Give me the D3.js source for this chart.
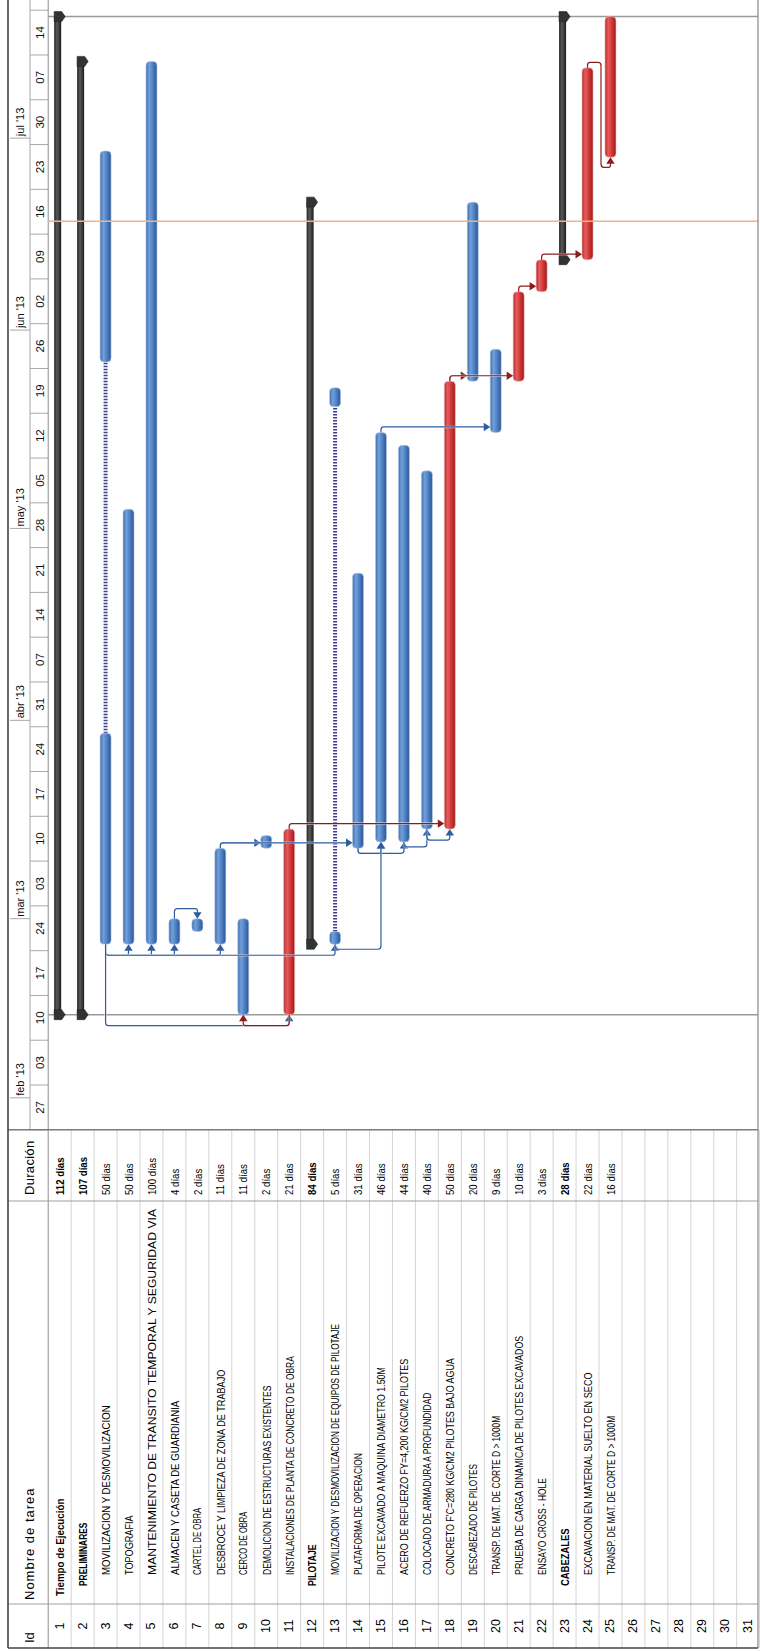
<!DOCTYPE html>
<html>
<head>
<meta charset="utf-8">
<script src="https://cdn.jsdelivr.net/npm/d3@7"></script>
<style>
  html, body { margin: 0; padding: 0; background: #fff; }
  svg { display: block; font-family: "Liberation Sans", Arial, sans-serif; }
</style>
</head>
<body>
<svg id="chart" width="760" height="1651"></svg>
<script>
// ---------- schedule data ----------
const taskIds = d3.range(1, 26);
const taskNames = [
  "Tiempo de Ejecución",
  "PRELIMINARES",
  "MOVILIZACION Y DESMOVILIZACION",
  "TOPOGRAFIA",
  "MANTENIMIENTO DE TRANSITO TEMPORAL Y SEGURIDAD VIA",
  "ALMACEN Y CASETA DE GUARDIANIA",
  "CARTEL DE OBRA",
  "DESBROCE Y LIMPIEZA DE ZONA DE TRABAJO",
  "CERCO DE OBRA",
  "DEMOLICION DE ESTRUCTURAS EXISTENTES",
  "INSTALACIONES DE PLANTA DE CONCRETO DE OBRA",
  "PILOTAJE",
  "MOVILIZACION Y DESMOVILIZACION DE EQUIPOS DE PILOTAJE",
  "PLATAFORMA DE OPERACION",
  "PILOTE EXCAVADO A MAQUINA DIAMETRO 1.50M",
  "ACERO DE REFUERZO FY=4,200 KG/CM2 PILOTES",
  "COLOCADO DE ARMADURA A PROFUNDIDAD",
  "CONCRETO F'C=280 KG/CM2 PILOTES BAJO AGUA",
  "DESCABEZADO DE PILOTES",
  "TRANSP. DE MAT. DE CORTE D > 1000M",
  "PRUEBA DE CARGA DINAMICA DE PILOTES EXCAVADOS",
  "ENSAYO CROSS - HOLE",
  "CABEZALES",
  "EXCAVACION EN MATERIAL SUELTO EN SECO",
  "TRANSP. DE MAT. DE CORTE D > 1000M"
];
const durations = [
  "112 días", "107 días", "50 días", "50 días", "100 días", "4 días", "2 días",
  "11 días", "11 días", "2 días", "21 días", "84 días", "5 días", "31 días",
  "46 días", "44 días", "40 días", "50 días", "20 días", "9 días", "10 días",
  "3 días", "28 días", "22 días", "16 días"
];
const outlineLevels = [0, 1, 2, 2, 2, 2, 2, 2, 2, 2, 2, 1, 2, 2, 2, 2, 2, 2, 2, 2, 2, 2, 1, 2, 2];
const taskKinds = [
  "summary", "summary", "task", "task", "task", "task", "task", "task", "task",
  "task", "critical", "summary", "task", "task", "task", "task", "task",
  "critical", "task", "task", "critical", "critical", "summary", "critical", "critical"
];
// working segments of each task: [start, end) dates
const taskSegments = [
  [["2013-02-14", "2013-07-20"]],
  [["2013-02-14", "2013-07-13"]],
  [["2013-02-25", "2013-03-30"], ["2013-05-27", "2013-06-29"]],
  [["2013-02-25", "2013-05-04"]],
  [["2013-02-25", "2013-07-13"]],
  [["2013-02-25", "2013-03-01"]],
  [["2013-02-27", "2013-03-01"]],
  [["2013-02-25", "2013-03-12"]],
  [["2013-02-14", "2013-03-01"]],
  [["2013-03-12", "2013-03-14"]],
  [["2013-02-14", "2013-03-15"]],
  [["2013-02-25", "2013-06-21"]],
  [["2013-02-25", "2013-02-27"], ["2013-05-20", "2013-05-23"]],
  [["2013-03-12", "2013-04-24"]],
  [["2013-03-13", "2013-05-16"]],
  [["2013-03-13", "2013-05-14"]],
  [["2013-03-15", "2013-05-10"]],
  [["2013-03-15", "2013-05-24"]],
  [["2013-05-24", "2013-06-21"]],
  [["2013-05-16", "2013-05-29"]],
  [["2013-05-24", "2013-06-07"]],
  [["2013-06-07", "2013-06-12"]],
  [["2013-06-12", "2013-07-20"]],
  [["2013-06-12", "2013-07-12"]],
  [["2013-06-28", "2013-07-20"]]
];
// dependencies: [predecessor, successor, type]
const links = [
  [3, 4, "SS"], [3, 5, "SS"], [3, 6, "SS"], [3, 8, "SS"], [3, 13, "SS"],
  [3, 11, "SS"], [11, 9, "SS"],
  [6, 7, "FF"],
  [8, 10, "FS"], [8, 14, "FS"],
  [14, 15, "SS"], [14, 16, "SS"], [16, 17, "SS"], [17, 18, "SS"], [13, 15, "SS"],
  [11, 18, "FS"], [15, 20, "FS"],
  [18, 19, "FS"], [18, 21, "FS"], [21, 22, "FS"], [22, 24, "FS"], [24, 25, "FS"]
];
const weekStarts = [
  "2013-01-27", "2013-02-03", "2013-02-10", "2013-02-17", "2013-02-24",
  "2013-03-03", "2013-03-10", "2013-03-17", "2013-03-24", "2013-03-31",
  "2013-04-07", "2013-04-14", "2013-04-21", "2013-04-28", "2013-05-05",
  "2013-05-12", "2013-05-19", "2013-05-26", "2013-06-02", "2013-06-09",
  "2013-06-16", "2013-06-23", "2013-06-30", "2013-07-07", "2013-07-14"
];
const monthStarts = ["2013-02-01", "2013-03-01", "2013-04-01", "2013-05-01", "2013-06-01", "2013-07-01"];
const monthLabels = ["feb '13", "mar '13", "abr '13", "may '13", "jun '13", "jul '13"];
const timescaleDomain = ["2013-01-27", "2013-07-21"];
const projectStart = "2013-02-14";
const projectFinish = "2013-07-20";
const statusDate = "2013-06-18";
const tableRows = 31;
const headerLabels = { id: "Id", name: "Nombre de tarea", duration: "Duración" };

// ---------- layout & style ----------
const parse = d3.utcParse("%Y-%m-%d");
const frameLeft = 8, tierSplit = 30, sideRight = 48.2, frameRight = 758;
const tableTop = 1129.8, durDivider = 1201, idDivider = 1604, frameBottom = 1648;
const taskW = 11, sumW = 7;
const colors = {
  linkTask: "#2e5c9e", linkCrit: "#8c1c1c",
  grid: "#d4d4d4", rule: "#8a8a8a", frame: "#444"
};
// horizontal compression of the task-name lettering per row
const nameStretch = {1: 0.93, 2: 0.8, 3: 0.92, 4: 0.87, 5: 1.16, 6: 0.92, 7: 0.74, 8: 0.87,
  9: 0.72, 10: 0.81, 11: 0.8, 12: 0.82, 13: 0.78, 14: 0.8, 15: 0.84, 16: 0.85, 17: 0.8,
  18: 0.85, 19: 0.77, 20: 0.8, 21: 0.84, 22: 0.8, 23: 0.9, 24: 0.87, 25: 0.8};
const levelStart = [1596, 1586, 1575];

const svg = d3.select("#chart");

// time runs upward; rows run left to right
const y = d3.scaleUtc()
  .domain(timescaleDomain.map(parse))
  .range([tableTop, 10.2]);
const x = d3.scaleBand()
  .domain(d3.range(1, tableRows + 1))
  .range([sideRight, sideRight + tableRows * 22.95]);
const cx = id => x(id) + x.bandwidth() / 2;

const tasks = taskIds.map((id, i) => {
  const segs = taskSegments[i].map(s => s.map(parse));
  return {
    id, name: taskNames[i], duration: durations[i], level: outlineLevels[i],
    kind: taskKinds[i], segs, start: segs[0][0], end: segs[segs.length - 1][1]
  };
});
const byId = new Map(tasks.map(t => [t.id, t]));

// ---------- gradients ----------
const defs = svg.append("defs");
function grad(id, stops) {
  const g = defs.append("linearGradient").attr("id", id)
    .attr("x1", "0%").attr("x2", "100%").attr("y1", "0%").attr("y2", "0%");
  stops.forEach(([o, c]) => g.append("stop").attr("offset", o).attr("stop-color", c));
}
grad("gTask", [["0%", "#3c6cae"], ["30%", "#74a0da"], ["65%", "#4b7dc1"], ["100%", "#2a5593"]]);
grad("gCrit", [["0%", "#b42a2b"], ["30%", "#e75c5c"], ["65%", "#cf3535"], ["100%", "#971d1e"]]);
grad("gSum", [["0%", "#222"], ["40%", "#5a5a5a"], ["100%", "#1c1c1c"]]);
defs.append("clipPath").attr("id", "nameClip")
  .append("rect").attr("x", sideRight).attr("y", durDivider + 1)
  .attr("width", frameRight - sideRight).attr("height", idDivider - durDivider - 2);

// ---------- timescale ----------
const ts = svg.append("g");
const weekDates = weekStarts.map(parse);
const fmtDay = d3.utcFormat("%d");
ts.selectAll("line.wk").data(weekDates.concat([parse(timescaleDomain[1])]))
  .join("line")
  .attr("x1", tierSplit).attr("x2", sideRight)
  .attr("y1", d => y(d)).attr("y2", d => y(d))
  .attr("stroke", "#a8a8a8").attr("stroke-width", 1);
ts.selectAll("text.wk").data(weekDates).join("text")
  .attr("transform", d => `translate(${(tierSplit + sideRight) / 2 + 0.5},${(y(d) + y(d3.utcDay.offset(d, 7))) / 2}) rotate(-90)`)
  .attr("text-anchor", "middle").attr("dominant-baseline", "central")
  .attr("font-size", 11.5).attr("fill", "#111")
  .text(d => fmtDay(d));
const monthDates = monthStarts.map(parse);
ts.selectAll("line.mo").data(monthDates).join("line")
  .attr("x1", frameLeft + 2).attr("x2", tierSplit)
  .attr("y1", d => y(d)).attr("y2", d => y(d))
  .attr("stroke", "#a8a8a8").attr("stroke-width", 1);
ts.selectAll("text.mo").data(monthDates).join("text")
  .attr("transform", (d, i) => `translate(${(frameLeft + tierSplit) / 2 + 1},${y(d) - 2}) rotate(-90)`)
  .attr("text-anchor", "start").attr("dominant-baseline", "central")
  .attr("font-size", 11).attr("fill", "#111")
  .text((d, i) => monthLabels[i]);
ts.append("line").attr("x1", tierSplit).attr("x2", tierSplit)
  .attr("y1", 0).attr("y2", tableTop).attr("stroke", "#a8a8a8");
ts.append("line").attr("x1", sideRight).attr("x2", sideRight)
  .attr("y1", 0).attr("y2", frameBottom).attr("stroke", "#8f8f8f");

// ---------- table ----------
const tb = svg.append("g");
tb.selectAll("line.row").data(d3.range(1, tableRows + 1)).join("line")
  .attr("x1", d => x(d) + x.bandwidth()).attr("x2", d => x(d) + x.bandwidth())
  .attr("y1", tableTop).attr("y2", frameBottom)
  .attr("stroke", colors.grid).attr("stroke-width", 1);
[tableTop, durDivider, idDivider].forEach(v => {
  tb.append("line").attr("x1", frameLeft).attr("x2", frameRight)
    .attr("y1", v).attr("y2", v)
    .attr("stroke", v === tableTop ? "#7a7a7a" : "#a0a0a0").attr("stroke-width", v === tableTop ? 1.6 : 1.1);
});
const headX = (frameLeft + sideRight) / 2 + 1;
tb.append("text").attr("transform", `translate(${headX},${frameBottom - 5}) rotate(-90)`)
  .attr("dominant-baseline", "central").attr("font-size", 13).text(headerLabels.id);
tb.append("text").attr("transform", `translate(${headX},${idDivider - 4}) rotate(-90)`)
  .attr("dominant-baseline", "central").attr("font-size", 13).attr("letter-spacing", 1)
  .text(headerLabels.name);
tb.append("text").attr("transform", `translate(${headX},${durDivider - 6}) rotate(-90)`)
  .attr("dominant-baseline", "central").attr("font-size", 13).attr("letter-spacing", 0.3)
  .text(headerLabels.duration);

tb.selectAll("text.idn").data(d3.range(1, tableRows + 1)).join("text")
  .attr("transform", d => `translate(${cx(d)},${(idDivider + frameBottom) / 2}) rotate(-90)`)
  .attr("text-anchor", "middle").attr("dominant-baseline", "central")
  .attr("font-size", 12.5).text(d => d);

tb.append("g").attr("clip-path", "url(#nameClip)")
  .selectAll("text").data(tasks).join("text")
  .attr("transform", d => `translate(${cx(d.id) + 0.5},${levelStart[d.level]}) rotate(-90) scale(${nameStretch[d.id]},1)`)
  .attr("dominant-baseline", "central")
  .attr("font-size", 10.5)
  .attr("font-weight", d => d.kind === "summary" ? "bold" : "normal")
  .text(d => d.name);

tb.selectAll("text.dur").data(tasks).join("text")
  .attr("transform", d => `translate(${cx(d.id) + 0.5},${durDivider - 6}) rotate(-90) scale(0.92,1)`)
  .attr("dominant-baseline", "central")
  .attr("font-size", 10.5)
  .attr("font-weight", d => d.kind === "summary" ? "bold" : "normal")
  .text(d => d.duration);

// ---------- project start / finish ----------
const gl = svg.append("g");
[projectStart, projectFinish].forEach(s => {
  gl.append("line").attr("x1", sideRight).attr("x2", frameRight)
    .attr("y1", y(parse(s))).attr("y2", y(parse(s)))
    .attr("stroke", "#9a9a9a").attr("stroke-width", 1.5);
});

// ---------- bars ----------
const bars = svg.append("g");
const workTasks = tasks.filter(t => t.kind !== "summary");
// dotted split between interrupted pieces
workTasks.filter(t => t.segs.length > 1).forEach(t => {
  for (let i = 0; i < t.segs.length - 1; i++) {
    bars.append("line")
      .attr("x1", cx(t.id)).attr("x2", cx(t.id))
      .attr("y1", y(t.segs[i][1])).attr("y2", y(t.segs[i + 1][0]))
      .attr("stroke", "#3a3f8e").attr("stroke-width", 4)
      .attr("stroke-dasharray", "1.4 1.6");
  }
});
workTasks.forEach(t => {
  bars.selectAll(null).data(t.segs).join("rect")
    .attr("x", cx(t.id) - taskW / 2)
    .attr("y", d => y(d[1]))
    .attr("width", taskW)
    .attr("height", d => y(d[0]) - y(d[1]))
    .attr("rx", 4).attr("ry", 4)
    .attr("fill", t.kind === "critical" ? "url(#gCrit)" : "url(#gTask)")
    .attr("stroke", t.kind === "critical" ? "#f1b5b5" : "#b9cdea")
    .attr("stroke-width", 0.6);
});
const sums = tasks.filter(t => t.kind === "summary");
sums.forEach(t => {
  const c = cx(t.id);
  bars.append("rect")
    .attr("x", c - 5.5).attr("y", y(t.end))
    .attr("width", sumW).attr("height", y(t.start) - y(t.end))
    .attr("fill", "url(#gSum)");
  [t.start, t.end].forEach(d => {
    const v = y(d);
    bars.append("path")
      .attr("d", `M${c - 5.5},${v - 5}H${c + 2}L${c + 5.5},${v}L${c + 2},${v + 5}H${c - 5.5}Z`)
      .attr("fill", "#333").attr("stroke", "#222").attr("stroke-width", 0.6);
  });
});

// ---------- dependency links ----------
function rounded(pts, r = 3) {
  let d = `M${pts[0][0]},${pts[0][1]}`;
  for (let i = 1; i < pts.length - 1; i++) {
    const [x0, y0] = pts[i - 1], [x1, y1] = pts[i], [x2, y2] = pts[i + 1];
    const d1 = Math.hypot(x1 - x0, y1 - y0), d2 = Math.hypot(x2 - x1, y2 - y1);
    if (d1 < 0.01 || d2 < 0.01) { d += `L${x1},${y1}`; continue; }
    const rr = Math.min(r, d1 / 2, d2 / 2);
    const ax = x1 - (x1 - x0) / d1 * rr, ay = y1 - (y1 - y0) / d1 * rr;
    const bx = x1 + (x2 - x1) / d2 * rr, by = y1 + (y2 - y1) / d2 * rr;
    d += `L${ax},${ay}Q${x1},${y1} ${bx},${by}`;
  }
  const last = pts[pts.length - 1];
  return d + `L${last[0]},${last[1]}`;
}
function arrowHead(a) {
  const { x: ax, y: ay, dir } = a;
  if (dir === "up") return `M${ax},${ay}L${ax - 4.2},${ay + 6.5}L${ax + 4.2},${ay + 6.5}Z`;
  if (dir === "down") return `M${ax},${ay}L${ax - 4.2},${ay - 6.5}L${ax + 4.2},${ay - 6.5}Z`;
  return `M${ax},${ay}L${ax - 6.5},${ay - 4.2}L${ax - 6.5},${ay + 4.2}Z`;
}
function route([p, s, type]) {
  const P = byId.get(p), S = byId.get(s);
  const xp = cx(p), xs = cx(s);
  if (type === "SS") {
    const ps = y(P.start), ss = y(S.start);
    const yh = Math.max(ps + 5, ss + 11);
    return { pts: [[xp, ps], [xp, yh], [xs, yh], [xs, ss + 6]], arrow: { x: xs, y: ss, dir: "up" } };
  }
  if (type === "FF") {
    const pe = y(P.end), se = y(S.end);
    const yh = Math.min(pe, se) - 10;
    return { pts: [[xp, pe], [xp, yh], [xs, yh], [xs, se - 6]], arrow: { x: xs, y: se, dir: "down" } };
  }
  const pe = y(P.end), ss = y(S.start);
  const yh = pe - 5.5;
  if (ss > pe + 1) {
    // successor already under way when the predecessor ends
    const xm = (xp + xs) / 2 + 2, yb = ss + 10;
    return { pts: [[xp, pe], [xp, yh], [xm, yh], [xm, yb], [xs, yb], [xs, ss + 6]], arrow: { x: xs, y: ss, dir: "up" } };
  }
  const tip = xs - taskW / 2;
  return { pts: [[xp, pe], [xp, yh], [tip - 5, yh]], arrow: { x: tip, y: yh, dir: "right" } };
}
const lk = svg.append("g");
links.forEach(l => {
  const r = route(l);
  const crit = byId.get(l[0]).kind === "critical";
  const col = crit ? colors.linkCrit : colors.linkTask;
  lk.append("path").attr("d", rounded(r.pts)).attr("fill", "none")
    .attr("stroke", "#fff").attr("stroke-opacity", 0.55).attr("stroke-width", 2.6);
  lk.append("path").attr("d", rounded(r.pts)).attr("fill", "none")
    .attr("stroke", col).attr("stroke-width", 1.2);
  lk.append("path").attr("d", arrowHead(r.arrow)).attr("fill", col);
});

// ---------- status date ----------
svg.append("line").attr("x1", sideRight).attr("x2", frameRight)
  .attr("y1", y(parse(statusDate))).attr("y2", y(parse(statusDate)))
  .attr("stroke", "#f5b283").attr("stroke-width", 1.6);

// ---------- frame ----------
const fr = svg.append("g").attr("fill", "none");
fr.append("line").attr("x1", frameLeft).attr("x2", frameLeft).attr("y1", 0).attr("y2", frameBottom)
  .attr("stroke", colors.frame).attr("stroke-width", 1.6);
fr.append("line").attr("x1", frameRight).attr("x2", frameRight).attr("y1", 0).attr("y2", frameBottom)
  .attr("stroke", "#888").attr("stroke-width", 1.2);
fr.append("line").attr("x1", frameLeft).attr("x2", frameRight).attr("y1", frameBottom).attr("y2", frameBottom)
  .attr("stroke", colors.frame).attr("stroke-width", 1.6);
</script>
</body>
</html>
